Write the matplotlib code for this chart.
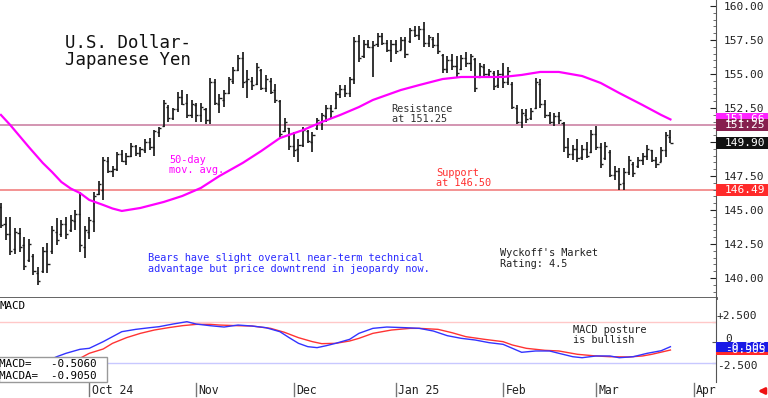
import numpy as np
import pandas as pd
import matplotlib
matplotlib.use('Agg')
import matplotlib.pyplot as plt
from matplotlib.patches import Rectangle
from matplotlib.ticker import MultipleLocator, FormatStrFormatter
from matplotlib.transforms import blended_transform_factory

plt.rcParams['font.family'] = ['DejaVu Sans Mono', 'DejaVu Sans']

# daily bars, USD/JPY, from Sep 4 2024
open_px = [145.2,144.0,143.2,142.1,143.3,142.4,141.3,141.6,140.4,140.5,
           142.0,142.0,143.4,143.2,144.0,143.5,144.2,144.7,142.3,143.4,
           144.2,146.2,146.5,148.6,147.9,148.0,149.1,148.6,149.0,149.7,
           149.2,149.4,150.0,149.6,150.7,151.2,152.6,151.8,152.4,153.3,
           152.9,152.0,152.7,152.0,152.4,151.6,154.4,152.8,153.1,153.6,
           154.5,155.3,156.2,154.5,154.5,154.3,155.3,154.0,154.5,153.8,
           153.0,150.8,151.0,149.7,149.5,149.8,150.8,150.0,151.0,151.5,
           151.9,152.5,152.5,153.5,153.9,153.6,154.6,157.4,156.3,157.2,
           157.0,157.2,157.8,157.3,156.8,157.2,156.8,157.5,157.4,158.2,
           157.9,158.3,157.3,157.6,157.1,156.4,155.4,156.0,155.6,155.4,
           156.2,155.8,156.1,154.8,155.5,155.0,155.1,154.2,155.0,154.4,
           154.3,152.5,151.5,152.0,151.8,152.5,154.3,152.8,152.0,151.5,
           151.9,151.4,149.6,149.1,149.5,148.9,149.5,149.3,150.6,149.6,
           148.8,149.3,147.6,147.9,147.0,147.8,148.4,148.2,148.7,149.0,
           149.4,148.7,148.5,149.4,150.4]
high_px = [145.5,144.5,144.5,143.7,143.7,143.0,142.9,141.8,140.8,142.3,
           142.6,143.8,144.4,144.3,144.5,144.6,145.0,146.3,143.8,144.5,
           146.3,147.1,148.9,148.9,148.2,149.3,149.4,149.2,149.9,149.8,
           149.6,150.2,150.3,150.9,151.1,153.1,152.7,152.5,153.7,153.8,
           153.5,153.1,152.9,152.9,152.5,154.7,154.6,153.5,153.8,154.8,
           155.5,156.4,156.6,155.3,154.8,155.8,155.4,154.9,154.7,154.3,
           153.1,151.8,151.0,150.7,150.2,151.1,150.9,150.7,151.8,152.1,
           152.7,152.7,153.7,154.2,154.2,154.8,157.7,157.9,157.5,157.5,
           157.4,158.0,158.0,157.5,157.5,157.5,157.7,157.7,158.4,158.5,
           158.5,158.8,157.9,157.7,158.0,156.5,156.3,156.5,156.3,156.4,
           156.6,156.5,156.2,155.8,155.7,155.4,155.2,155.3,155.8,155.5,
           154.4,152.7,152.4,152.4,152.5,154.7,154.6,153.1,152.2,152.1,
           152.2,151.5,150.3,149.8,150.2,149.8,150.0,150.9,151.2,149.9,
           150.0,149.4,148.2,148.1,148.1,149.0,148.5,148.9,149.2,149.8,
           149.4,148.9,149.6,150.7,150.9]
low_px = [143.7,142.8,141.7,141.8,141.9,140.6,141.2,140.2,139.5,140.4,
          140.4,141.8,142.4,143.0,142.9,143.4,143.5,141.9,141.5,142.9,
          143.4,146.1,145.7,147.7,147.4,147.9,148.5,148.3,148.9,149.0,
          148.9,149.2,149.4,149.0,150.4,151.1,151.5,151.6,152.2,152.7,
          151.8,151.8,151.5,151.5,151.3,151.3,152.7,152.1,152.6,153.5,
          154.3,155.2,154.0,153.2,153.8,154.2,153.8,153.7,153.5,152.9,
          150.3,150.7,149.4,148.9,148.5,149.6,149.9,149.3,150.9,150.9,
          151.5,151.8,152.4,153.2,153.3,153.3,154.3,155.9,156.2,156.9,
          154.8,157.0,157.1,156.6,155.9,156.5,156.8,156.2,157.3,157.7,
          157.5,157.0,157.0,156.9,156.5,155.1,155.1,155.3,154.8,155.3,
          155.5,155.2,153.7,154.7,154.8,154.7,153.8,154.0,154.0,154.2,
          152.4,151.3,151.0,151.4,151.6,152.4,152.5,151.8,151.3,151.2,
          151.3,149.3,148.8,148.7,148.5,148.7,148.8,149.2,149.4,148.1,
          148.7,147.4,147.2,146.5,146.5,147.6,147.4,148.1,148.3,148.7,
          148.5,148.1,148.5,148.9,149.9]
close_px = [143.9,143.2,142.0,143.4,142.3,140.9,142.5,140.5,139.8,142.0,
            141.0,143.5,142.8,144.0,143.2,144.3,144.7,142.4,143.5,144.3,
            146.0,146.9,148.7,147.9,148.0,149.1,148.6,149.0,149.7,149.2,
            149.5,150.0,149.6,150.8,151.0,152.9,151.8,152.4,153.3,152.8,
            152.0,152.8,152.0,152.6,151.6,154.4,152.9,153.2,153.6,154.6,
            155.3,156.2,154.4,154.6,154.2,155.5,154.0,154.6,153.7,153.1,
            150.6,151.5,149.7,149.4,149.8,150.9,150.1,150.5,151.6,152.0,
            152.5,152.3,153.5,153.9,153.6,154.6,157.4,156.2,157.2,157.0,
            157.1,157.8,157.3,156.8,157.2,156.7,157.5,156.5,158.2,157.9,
            158.3,157.3,157.7,157.1,156.7,155.4,156.0,155.6,155.1,156.2,
            155.8,156.3,154.0,155.6,155.0,155.2,154.1,155.0,154.4,155.2,
            152.6,151.5,152.1,151.7,152.3,154.4,152.8,152.0,151.5,151.9,
            151.6,149.6,149.1,149.5,148.8,149.5,149.0,150.6,149.6,148.4,
            149.7,147.6,147.9,146.9,147.8,148.7,147.7,148.7,149.0,149.5,
            148.7,148.4,149.4,150.5,149.90]

# 50-day moving average, read at these bar numbers
ma_idx = [0,2,4,6,9,11,13,15,17,19,22,24,26,30,35,39,43,47,52,56,60,65,69,73,77,80,
          86,90,95,99,103,108,112,116,120,125,129,133,138,142,144]
ma_val = [151.99,151.25,150.44,149.63,148.46,147.79,147.06,146.58,146.25,145.74,
          145.37,145.11,144.93,145.15,145.59,146.03,
          146.62,147.50,148.46,149.34,150.29,150.88,151.47,151.99,152.57,153.09,
          153.82,154.19,154.63,154.78,154.78,154.78,154.93,155.15,155.15,154.85,
          154.34,153.60,152.72,151.99,151.66]

# MACD and its signal line (MACDA)
macd_idx = [10,12,14,17,19,22,24,26,29,32,34,37,40,42,45,48,51,54,57,60,
            62,64,66,68,70,72,75,77,80,83,87,90,93,96,99,102,105,108,110,112,
            115,118,120,123,125,128,131,133,136,139,142,144]
macd_val = [-2.2,-1.71,-1.30,-0.82,-0.70,0.10,0.70,1.30,1.58,1.78,
            1.90,2.22,2.50,2.22,2.02,1.86,2.10,1.98,1.78,1.30,
            0.58,-0.10,-0.50,-0.62,-0.38,-0.10,0.38,1.10,1.70,1.86,
            1.78,1.70,1.38,0.82,0.50,0.30,-0.02,-0.22,-0.70,-1.18,
            -1.02,-1.02,-1.30,-1.71,-1.83,-1.62,-1.62,-1.83,-1.71,-1.30,
            -0.99,-0.506]
sig_idx = [15,17,19,22,24,27,30,33,36,39,42,45,47,51,54,58,61,64,67,69,
           72,75,77,80,84,88,90,94,97,100,104,108,110,113,117,120,124,128,131,135,
           138,140,144]
sig_val = [-2.4,-1.90,-1.30,-0.78,-0.10,0.58,1.10,1.50,1.78,2.02,
           2.18,2.18,2.10,2.02,1.98,1.70,1.22,0.58,0.10,-0.14,
           -0.10,0.18,0.50,1.10,1.50,1.70,1.70,1.58,1.18,0.70,
           0.38,0.10,-0.30,-0.70,-0.94,-1.02,-1.42,-1.62,-1.71,-1.74,
           -1.62,-1.42,-0.905]

resistance = 151.25
support = 146.49
last_ma = 151.66
last_close = 149.90
month_labels = ['Oct 24', 'Nov', 'Dec', 'Jan 25', 'Feb', 'Mar', 'Apr']

W, H = 768, 398
fig = plt.figure(figsize=(W / 100, H / 100), dpi=100)


def fx(px):
    return px / W


def fy(py):
    return 1 - py / H


ax = fig.add_axes([0, fy(298), fx(716), 298 / H])
ax2 = fig.add_axes([0, fy(382), fx(716), 84 / H], sharex=ax)

idx = np.arange(len(close_px))
bar_col = '#1a1a1a'
ax.vlines(idx, low_px, high_px, color=bar_col, lw=1.25)
ax.hlines(open_px, idx - 0.45, idx, color=bar_col, lw=1.0)
ax.hlines(close_px, idx, idx + 0.45, color=bar_col, lw=1.0)

ax.axhline(resistance, color='#c8789c', lw=1.1, zorder=1)
ax.axhline(support, color='#f28a8a', lw=1.3, zorder=1)
ax.plot(ma_idx, ma_val, color='#ff00ff', lw=1.6)

ax.set_xlim(-0.2, 153.8)
ax.set_ylim(138.53, 160.44)
for s in ['left', 'top']:
    ax.spines[s].set_visible(False)
ax.spines['right'].set_color('#555555')
ax.spines['bottom'].set_color('#555555')
ax.spines['bottom'].set_linewidth(2)
ax.tick_params(axis='x', which='both', bottom=False, labelbottom=False)
ax.yaxis.tick_right()
ax.set_yticks(np.arange(140, 160.01, 2.5))
ax.yaxis.set_major_formatter(FormatStrFormatter('%.2f'))
ax.yaxis.set_minor_locator(MultipleLocator(0.5))
ax.tick_params(axis='y', which='major', direction='in', length=4, pad=5.5,
               labelsize=8, colors='#222222')
ax.tick_params(axis='y', which='minor', direction='in', length=2, colors='#555555')


def tag(axis, val, txt, fc, h):
    tr = blended_transform_factory(axis.transAxes, axis.transData)
    axis.add_patch(Rectangle((1.0, val - h / 2), 52 / 716, h, transform=tr,
                             facecolor=fc, edgecolor='none', clip_on=False, zorder=5))
    axis.text(1 + 9 / 716, val, txt, transform=tr, ha='left', va='center',
              color='white', fontsize=8, zorder=6, clip_on=False)


tag(ax, last_ma, '%.2f' % last_ma, '#ff22ff', 0.88)
tag(ax, resistance, '%.2f' % resistance, '#86204e', 0.88)
tag(ax, last_close, '%.2f' % last_close, '#111111', 0.88)
tag(ax, support, '%.2f' % support, '#ff2a2a', 0.88)

# MACD panel
ax2.axhline(2.5, color='#ffc8c8', lw=1.0)
ax2.axhline(-2.5, color='#c8c8ff', lw=1.0)
ax2.plot(sig_idx, sig_val, color='#ff3333', lw=1.0)
ax2.plot(macd_idx, macd_val, color='#3333ff', lw=1.0)
ax2.set_ylim(-4.75, 5.35)
for s in ['left', 'top', 'bottom']:
    ax2.spines[s].set_visible(False)
ax2.spines['right'].set_color('#555555')
ax2.yaxis.tick_right()
ax2.set_yticks([-2.5, 0, 2.5])
ax2.set_yticklabels([])
ax2.tick_params(axis='y', direction='in', length=3, colors='#555555')
ax2.tick_params(axis='x', which='both', bottom=False, labelbottom=False)

tr2 = blended_transform_factory(ax2.transAxes, ax2.transData)
ax2.text(1 + 1 / 716, 3.2, '+2.500', transform=tr2, fontsize=8, color='#222222',
         ha='left', va='center', clip_on=False)
ax2.text(1 + 9 / 716, 0.4, '0', transform=tr2, fontsize=8, color='#222222',
         ha='left', va='center', clip_on=False)
ax2.text(1 + 1 / 716, -2.85, '-2.500', transform=tr2, fontsize=8, color='#222222',
         ha='left', va='center', clip_on=False)
tag(ax2, sig_val[-1], '%.3f' % sig_val[-1], '#ff2a2a', 1.2)
tag(ax2, macd_val[-1], '%.3f' % macd_val[-1], '#1a1ae6', 1.2)

ax2.add_patch(Rectangle((-0.002, 0), 108 / 716, 25 / 84, transform=ax2.transAxes,
                        facecolor='white', edgecolor='#999999', lw=1,
                        clip_on=False, zorder=8))
ax2.text(-0.001, (382 - 367.3) / 84, 'MACD=   %.4f' % macd_val[-1], transform=ax2.transAxes,
         fontsize=7.8, va='baseline', zorder=9)
ax2.text(-0.001, (382 - 379) / 84, 'MACDA=  %.4f' % sig_val[-1], transform=ax2.transAxes,
         fontsize=7.8, va='baseline', zorder=9)
ax2.text(0.0, (382 - 309) / 84, 'MACD', transform=ax2.transAxes, fontsize=7.8,
         va='baseline')

# month ticks under the MACD panel
all_days = pd.bdate_range('2024-09-04', '2025-04-30')
pos = pd.Series(np.arange(len(all_days)), index=all_days)
firsts = pos.groupby([all_days.year, all_days.month]).first().values[1:]
trx = blended_transform_factory(ax2.transData, ax2.transAxes)
for p, lab in zip(firsts, month_labels):
    ax2.plot([p, p], [-0.012, -0.17], transform=trx, color='#777777', lw=1, clip_on=False)
    ax2.text(p + 0.5, (382 - 394) / 84, lab, transform=trx, fontsize=8.3,
             color='#222222', ha='left', va='baseline', clip_on=False)

# annotations
fig.text(fx(65), fy(48.3), 'U.S. Dollar-', fontsize=12.5, color='#111111', va='baseline')
fig.text(fx(65), fy(65), 'Japanese Yen', fontsize=12.5, color='#111111', va='baseline')


def note(x, baselines, lines, color):
    for b, t in zip(baselines, lines):
        fig.text(fx(x), fy(b), t, fontsize=7.4, color=color, va='baseline')


note(391.5, [111.7, 121.7], ['Resistance', 'at 151.25'], '#333333')
note(169, [163, 172.8], ['50-day', 'mov. avg.'], '#ff00ff')
note(436, [176.2, 186.5], ['Support', 'at 146.50'], '#ff3030')
note(147.5, [261, 271.5], ['Bears have slight overall near-term technical',
                           'advantage but price downtrend in jeopardy now.'], '#2a2aff')
note(499.5, [256.5, 266.7], ["Wyckoff's Market", 'Rating: 4.5'], '#222222')
note(573, [333.3, 343.3], ['MACD posture', 'is bullish'], '#222222')

ax.annotate('', xy=(755, 7), xytext=(767, 7), xycoords='figure pixels',
            textcoords='figure pixels', annotation_clip=False,
            arrowprops=dict(arrowstyle='-|>', color='#ee1111', lw=2, mutation_scale=9))

fig.savefig('out.png', dpi=100)
